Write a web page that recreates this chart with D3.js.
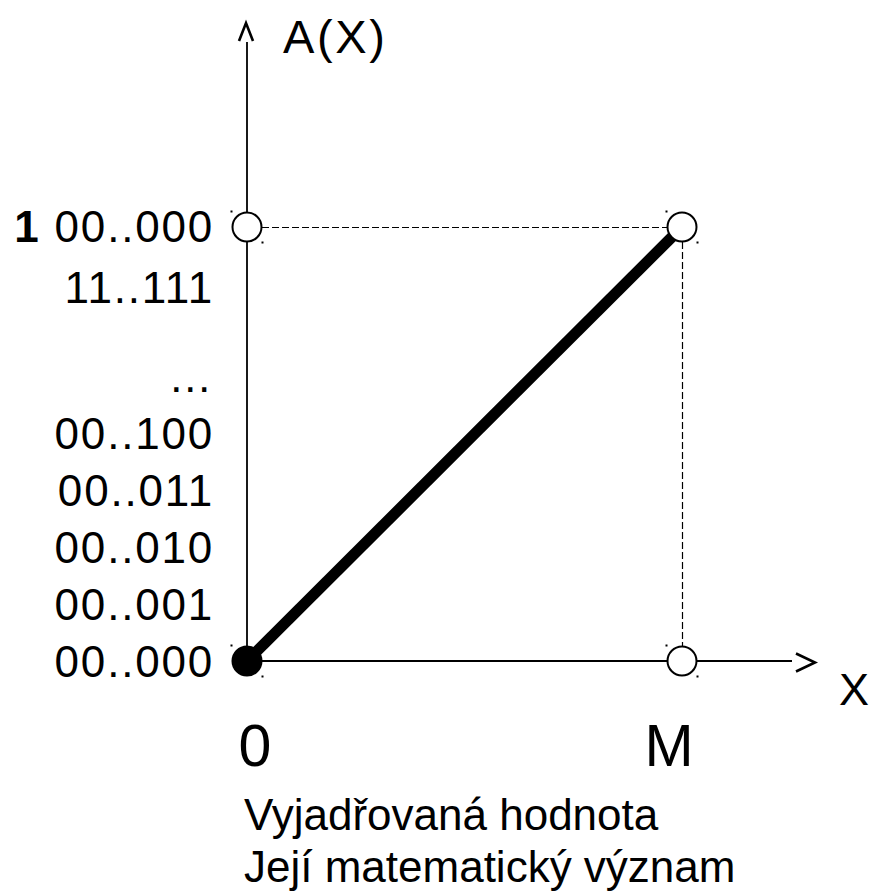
<!DOCTYPE html>
<html>
<head>
<meta charset="utf-8">
<script src="https://cdn.jsdelivr.net/npm/d3@7"></script>
<style>
  body { margin: 0; background: #fff; }
  text { font-family: "Liberation Sans", Arial, sans-serif; fill: #000; }
</style>
</head>
<body>
<div id="chart"></div>
<script>
// values
var xTickValues = [0, 1];
var xTickLabels = ["0", "M"];
var codeLabels = ["00..000", "00..001", "00..010", "00..011", "00..100", "\u2026", "11..111", "00..000"];
var codeRows = [0, 1, 2, 3, 4, 5, 6.56, 7.63];
var carryBit = ["", "", "", "", "", "", "", "1"];
var lineData = [[0, 0], [1, 1]];
var openPoints = [[0, 1], [1, 1], [1, 0]];
var filledPoints = [[0, 0]];
var captionLines = ["Vyjad\u0159ovan\u00e1 hodnota", "Jej\u00ed matematick\u00fd v\u00fdznam"];

var width = 870, height = 894;

var svg = d3.select("#chart").append("svg")
    .attr("width", width)
    .attr("height", height);

var x = d3.scaleLinear().domain([0, 1]).range([247, 682]);
var y = d3.scaleLinear().domain([0, 1]).range([661, 227]);
// baseline of each code row on the left
var row = d3.scaleLinear().domain([0, 1]).range([677, 620]);

// axes with open arrow heads
svg.append("line")
    .attr("x1", x(0)).attr("y1", 42)
    .attr("x2", x(0)).attr("y2", y(0))
    .style("stroke", "#000").style("stroke-width", 1.8);
svg.append("polyline")
    .attr("points", [[x(0) - 8, 41], [x(0) - 1, 23], [x(0) + 6, 41]].join(" "))
    .style("fill", "none").style("stroke", "#000").style("stroke-width", 2.6);

svg.append("line")
    .attr("x1", x(0)).attr("y1", y(0))
    .attr("x2", 792).attr("y2", y(0))
    .style("stroke", "#000").style("stroke-width", 1.8);
svg.append("polyline")
    .attr("points", [[796, y(0) - 7.5], [815, y(0) + 1.5], [796, y(0) + 10.5]].join(" "))
    .style("fill", "none").style("stroke", "#000").style("stroke-width", 2.6);

svg.append("text")
    .attr("x", 283).attr("y", 53)
    .style("font-size", "47px")
    .style("letter-spacing", "2.6px")
    .text("A(X)");
svg.append("text")
    .attr("x", 839).attr("y", 705)
    .style("font-size", "45px")
    .text("X");

// dashed guide lines
svg.append("line")
    .attr("x1", x(0) + 15).attr("y1", y(1) + 0.5)
    .attr("x2", x(1) - 15).attr("y2", y(1) + 0.5)
    .style("stroke", "#000").style("stroke-width", 1.2)
    .style("stroke-dasharray", "7,3");
svg.append("line")
    .attr("x1", x(1) + 0.5).attr("y1", y(1) + 15)
    .attr("x2", x(1) + 0.5).attr("y2", y(0) - 15)
    .style("stroke", "#000").style("stroke-width", 1.2)
    .style("stroke-dasharray", "7,3");

// thick ramp
svg.append("path")
    .datum(lineData)
    .attr("d", d3.line().x(function(d) { return x(d[0]); }).y(function(d) { return y(d[1]); }))
    .style("fill", "none").style("stroke", "#000").style("stroke-width", 11);

// end points
function addPoints(data, filled) {
    data.forEach(function(d) {
        var cx = x(d[0]), cy = y(d[1]);
        svg.append("circle")
            .attr("cx", cx).attr("cy", cy).attr("r", filled ? 15.5 : 14.5)
            .style("fill", filled ? "#000" : "#fff")
            .style("stroke", "#000").style("stroke-width", filled ? 0 : 2);
        // little handle marks at the corners
        [[-15.5, -15.5], [15.5, 15.5]].forEach(function(o) {
            svg.append("rect")
                .attr("x", cx + o[0] - 1).attr("y", cy + o[1] - 1)
                .attr("width", 2).attr("height", 2)
                .style("fill", "#000");
        });
    });
}
addPoints(openPoints, false);
addPoints(filledPoints, true);

// code labels on the left
codeLabels.forEach(function(lbl, i) {
    var t = svg.append("text")
        .attr("x", 214).attr("y", row(codeRows[i]))
        .attr("text-anchor", "end")
        .style("font-size", "44px")
        .style("letter-spacing", "1.8px");
    if (carryBit[i]) {
        t.append("tspan").style("font-weight", "bold").text(carryBit[i]);
        t.append("tspan").text(" " + lbl);
    } else {
        t.text(lbl);
    }
});

// x tick labels
xTickLabels.forEach(function(lbl, i) {
    svg.append("text")
        .attr("x", x(xTickValues[i]) + (i === 0 ? 8 : -13))
        .attr("y", 766)
        .attr("text-anchor", "middle")
        .style("font-size", "59px")
        .text(lbl);
});

// caption
captionLines.forEach(function(line, i) {
    svg.append("text")
        .attr("x", 244).attr("y", 830 + i * 52)
        .style("font-size", "44px")
        .text(line);
});
</script>
</body>
</html>
